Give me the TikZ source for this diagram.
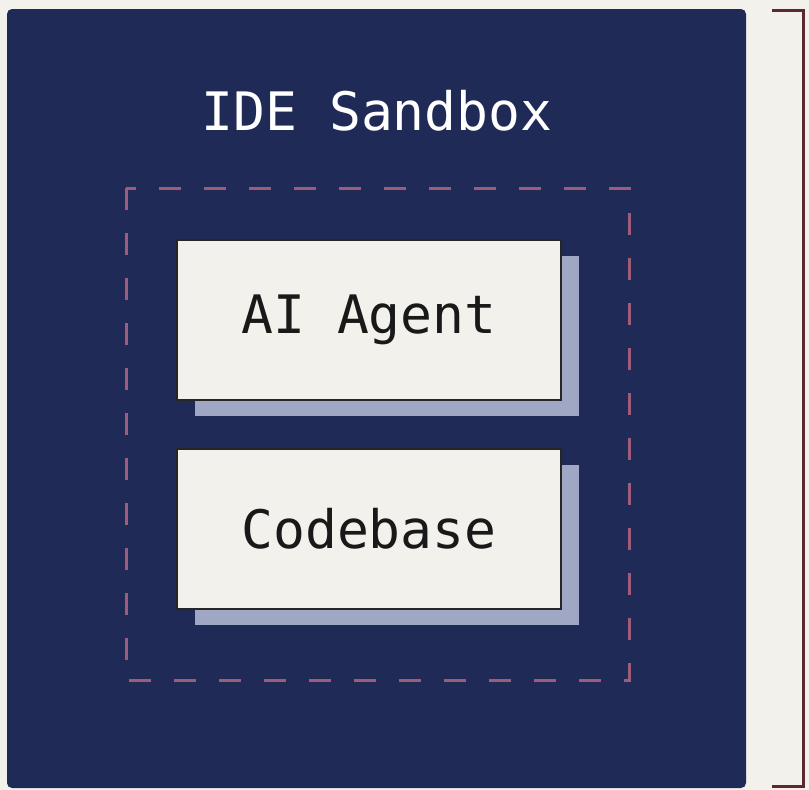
\documentclass[tikz,border=0pt]{standalone}
\usepackage{fontspec}
\setmonofont{DejaVu Sans Mono}
\definecolor{bgc}{RGB}{243,241,236}
\definecolor{navy}{RGB}{31,43,86}
\definecolor{dashc}{RGB}{156,92,122}
\definecolor{boxc}{RGB}{242,241,236}
\definecolor{shadc}{RGB}{160,167,196}
\definecolor{brk}{RGB}{92,42,44}
\begin{document}
\begin{tikzpicture}[x=1pt,y=-1pt,
  card/.style={draw=black!85,line width=1.2pt,fill=boxc,minimum width=384pt,minimum height=160pt,inner sep=0pt,font=\ttfamily\fontsize{53}{60}\selectfont,text=black!90},
  shade/.style={fill=shadc,draw=none},
  dashbox/.style={draw=dashc,line width=3pt,dash pattern=on 22pt off 23pt}
]
\useasboundingbox (0,0) rectangle (809,790);
\fill[bgc] (0,0) rectangle (809,790);
\fill[navy,rounded corners=5pt] (7,9) rectangle (746,788);
\node[font=\ttfamily\fontsize{53}{60}\selectfont,text=white] (title) at (377,111) {IDE Sandbox};
\draw[dashbox] (126,188) rectangle (629,680);
\fill[shade] (195,256) rectangle (579,416);
\node[card] (agent) at (369,320) {AI Agent};
\fill[shade] (195,465) rectangle (579,625);
\node[card] (code) at (369,529) {Codebase};
\draw[brk,line width=3pt] (772,10) -- (803,10) -- (803,786) -- (772,786);
\end{tikzpicture}
\end{document}
